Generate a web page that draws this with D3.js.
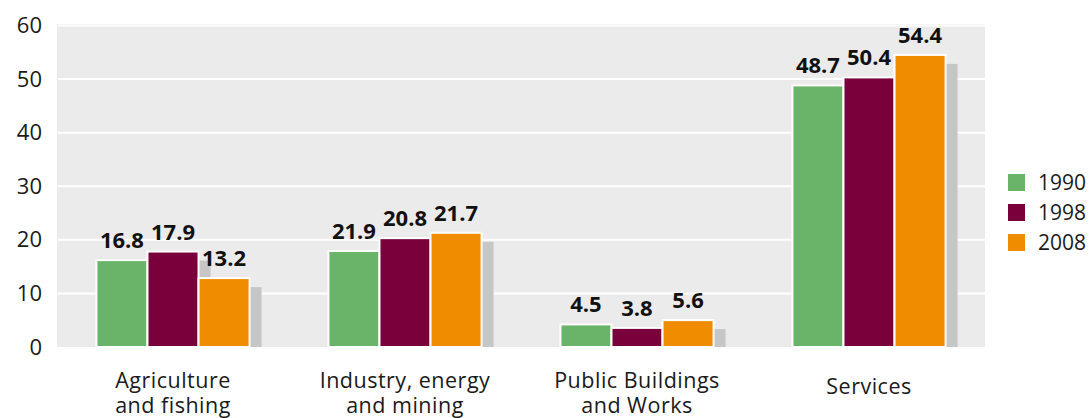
<!DOCTYPE html>
<html>
<head>
<meta charset="utf-8">
<script src="https://cdn.jsdelivr.net/npm/d3@7"></script>
<style>
  html, body { margin: 0; padding: 0; background: #ffffff; }
  svg { display: block; font-family: "Open Sans", "Noto Sans", sans-serif; }
</style>
</head>
<body>
<svg id="chart" width="1092" height="418"></svg>
<script>
// ---- data ----
const categories = ["Agriculture and fishing", "Industry, energy and mining", "Public Buildings and Works", "Services"];
const categoryLines = [["Agriculture", "and fishing"], ["Industry, energy", "and mining"], ["Public Buildings", "and Works"], ["Services"]];
const seriesNames = ["1990", "1998", "2008"];
// printed values
const labels1990 = [16.8, 21.9, 4.5, 48.7];
const labels1998 = [17.9, 20.8, 3.8, 50.4];
const labels2008 = [13.2, 21.7, 5.6, 54.4];
// bar heights as drawn in the picture
const bars1990 = [16.4, 18.1, 4.4, 49.0];
const bars1998 = [18.0, 20.5, 3.75, 50.5];
const bars2008 = [13.05, 21.5, 5.2, 54.7];
const yTicks = [0, 10, 20, 30, 40, 50, 60];

const colors = ["#6ab469", "#7a003c", "#f08c00"];

const bars = [bars1990, bars1998, bars2008];
const lbls = [labels1990, labels1998, labels2008];

const svg = d3.select("#chart");
const plot = { left: 57, right: 985, top: 24, bottom: 347 };

const x = d3.scaleBand().domain(categories).range([plot.left, plot.right]).paddingInner(0.34).paddingOuter(0.17);
const xs = d3.scaleBand().domain(seriesNames).range([0, x.bandwidth()]).padding(0);
const y = d3.scaleLinear().domain([0, 60]).range([plot.bottom, 25.5]);

// background
svg.append("rect")
  .attr("x", plot.left).attr("y", plot.top)
  .attr("width", plot.right - plot.left).attr("height", plot.bottom - plot.top)
  .attr("fill", "#ebebeb");

// gridlines
svg.append("g").selectAll("line").data(yTicks.filter(d => d > 0)).join("line")
  .attr("x1", plot.left + 1).attr("x2", plot.right)
  .attr("y1", d => y(d)).attr("y2", d => y(d))
  .attr("stroke", "#ffffff").attr("stroke-width", 2);

// y axis
const yAxis = svg.append("g")
  .attr("transform", `translate(${plot.left - 15},0)`)
  .call(d3.axisLeft(y).tickValues(yTicks).tickSize(0).tickPadding(0));
yAxis.select(".domain").remove();
yAxis.selectAll("text")
  .attr("font-size", 22).attr("fill", "#1a1a1a")
  .attr("font-family", "\"Open Sans\", sans-serif");

// groups
const groups = svg.append("g").selectAll("g").data(categories).join("g")
  .attr("transform", d => `translate(${x(d)},0)`);

// shadows
groups.each(function(c, ci) {
  const g = d3.select(this);
  g.selectAll("rect.shadow").data(seriesNames).join("rect")
    .attr("class", "shadow")
    .attr("x", s => xs(s) + 12)
    .attr("y", (s, si) => y(bars[si][ci]) + 10)
    .attr("width", xs.bandwidth())
    .attr("height", (s, si) => Math.max(0, y(0) - y(bars[si][ci]) - 10))
    .attr("fill", "#c6c6c7");
});

// bars
groups.each(function(c, ci) {
  const g = d3.select(this);
  g.selectAll("rect.bar").data(seriesNames).join("rect")
    .attr("class", "bar")
    .attr("x", s => xs(s))
    .attr("y", (s, si) => y(bars[si][ci]) + 1)
    .attr("width", xs.bandwidth())
    .attr("height", (s, si) => y(0) - y(bars[si][ci]) - 1)
    .attr("fill", (s, si) => colors[si])
    .attr("stroke", "#ffffff").attr("stroke-width", 2);
});

// value labels
groups.each(function(c, ci) {
  const g = d3.select(this);
  g.selectAll("text.val").data(seriesNames).join("text")
    .attr("class", "val")
    .attr("x", s => xs(s) + xs.bandwidth() / 2)
    .attr("y", (s, si) => y(bars[si][ci]) - 11)
    .attr("text-anchor", "middle")
    .attr("font-size", 22).attr("font-weight", "bold").attr("fill", "#111111")
    .text((s, si) => d3.format(".1f")(lbls[si][ci]));
});

// x category labels
svg.append("g").selectAll("text").data(categories).join("text")
  .attr("text-anchor", "middle")
  .attr("font-size", 21.5).attr("letter-spacing", 0.5).attr("fill", "#1a1a1a")
  .attr("transform", (d, i) => `translate(${x(d) + x.bandwidth() / 2},${categoryLines[i].length > 1 ? 388 : 394})`)
  .each(function(d, i) {
    d3.select(this).selectAll("tspan").data(categoryLines[i]).join("tspan")
      .attr("x", 0).attr("dy", (l, j) => j === 0 ? 0 : 24.5)
      .text(l => l);
  });

// legend
const legend = svg.append("g").attr("transform", "translate(1008,174)");
legend.selectAll("rect").data(seriesNames).join("rect")
  .attr("x", 0).attr("y", (d, i) => i * 30)
  .attr("width", 17).attr("height", 17)
  .attr("fill", (d, i) => colors[i]);
legend.selectAll("text").data(seriesNames).join("text")
  .attr("x", 30).attr("y", (d, i) => i * 30 + 15.5)
  .attr("font-size", 21).attr("fill", "#1a1a1a")
  .text(d => d);
</script>
</body>
</html>
